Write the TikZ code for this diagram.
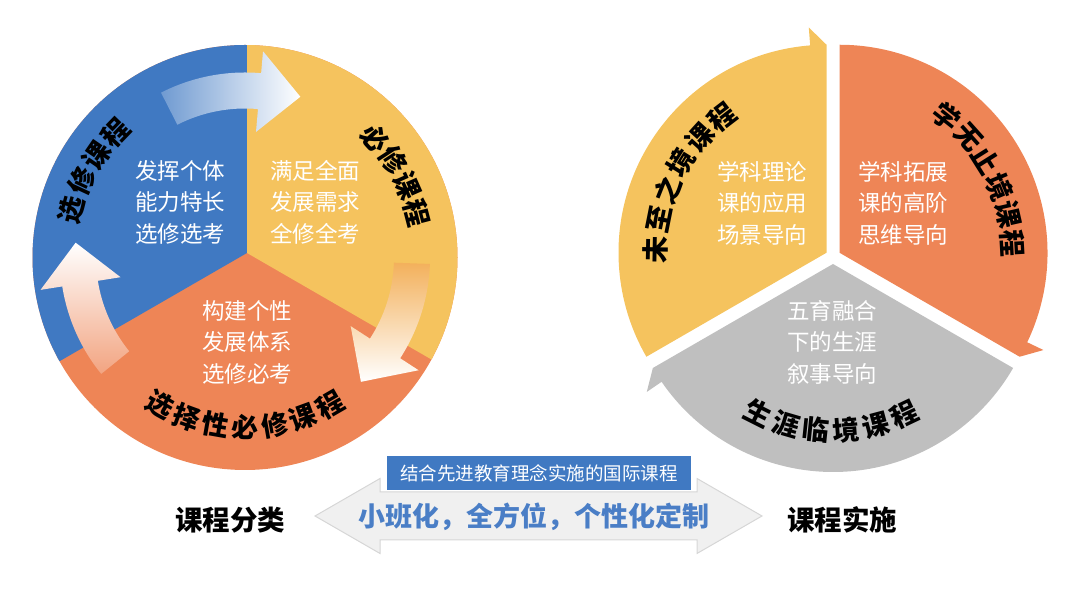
\documentclass[tikz,border=0pt]{standalone}
\usepackage{fontspec}
\setmainfont{Noto Sans CJK SC}
\usetikzlibrary{positioning}

\definecolor{kblue}{HTML}{4079C2}
\definecolor{kyellow}{HTML}{F5C35E}
\definecolor{korange}{HTML}{EE8556}
\definecolor{kgrey}{HTML}{BFBFBF}
\definecolor{ktext}{HTML}{4A7EC6}
\definecolor{karrow}{HTML}{F0F0F0}
\definecolor{kedge}{HTML}{D6D6D6}

\tikzset{
  body/.style={text=white, align=center, inner sep=0pt, font=\fontsize{22.5}{31.5}\selectfont},
  tag/.style={inner sep=0pt, font=\fontsize{27}{27}\selectfont\bfseries},
  title/.style={inner sep=0pt, font=\fontsize{27.5}{27.5}\selectfont\bfseries},
}

\newcommand{\arclabel}[5]{%
  \foreach \ch [count=\i from 0] in {#5}
    \node[tag, rotate={#2+\i*(#3)+#4}] (#1-\i) at ({#2+\i*(#3)}:#1) {\ch};}
\newcommand{\bendarrow}[3]{%
  (#1:185) arc[start angle=#1, end angle=#2, radius=185] -- (#2:207) -- (#3:170)
  -- (#2:126) -- (#2:149) arc[start angle=#2, end angle=#1, radius=149] -- cycle}

\begin{document}
\begin{tikzpicture}[x=1pt,y=1pt]
  \useasboundingbox (0,0) rectangle (1080,593);
  \begin{scope}[shift={(245,335.5)}]
    \fill[korange] (0,0) circle[radius=212.5];
    \begin{scope}
      \clip (0,0) circle[radius=212.5];
      \fill[kblue] (2,4.5) -- (2,230) -- (-260,230) -- (-257.8,-145.5) -- cycle;
      \fill[kyellow] (2,4.5) -- (2,230) -- (262,230) -- (261.8,-145.5) -- cycle;
    \end{scope}
    \shade[left color=kblue!75!white, right color=white] \bendarrow{117}{85}{71};
    \shade[top color=kyellow!70!korange, bottom color=white] \bendarrow{-2}{-33}{-47};
    \shade[bottom color=korange!75!white, top color=white] \bendarrow{219}{189}{175};
    \arclabel{180}{164.5}{-9.5}{-90}{选,修,课,程}
    \arclabel{177}{42.5}{-9.3}{-90}{必,修,课,程}
    \arclabel{170}{240}{10}{90}{选,择,性,必,修,课,程}
  \end{scope}
  \node[body] (free) at (180,391) {发挥个体\\能力特长\\选修选考};
  \node[body] (must) at (315,391) {满足全面\\发展需求\\全修全考};
  \node[body] (mixed) at (247,251) {构建个性\\发展体系\\选修必考};

  \begin{scope}[shift={(833,336.5)}]
    \begin{scope}[shift={(150:7.5)}]
      \fill[kyellow] (0,0) -- (90:208) -- (94.5:226) -- (94.5:208)
        arc[start angle=94.5, end angle=210, radius=208] -- cycle;
      \arclabel{171}{179}{-10.3}{-90}{未,至,之,境,课,程}
    \end{scope}
    \begin{scope}[shift={(30:7.5)}]
      \fill[korange] (0,0) -- (-30:208) -- (-25.5:226) -- (-25.5:208)
        arc[start angle=-25.5, end angle=90, radius=208] -- cycle;
      \arclabel{173}{51.6}{-9.7}{-90}{学,无,止,境,课,程}
    \end{scope}
    \begin{scope}[shift={(270:7.5)}]
      \fill[kgrey] (0,0) -- (210:208) -- (214.5:226) -- (214.5:208)
        arc[start angle=214.5, end angle=330, radius=208] -- cycle;
      \arclabel{167}{243.3}{10.4}{90}{生,涯,临,境,课,程}
    \end{scope}
  \end{scope}
  \node[body] (theory) at (762,390) {学科理论\\课的应用\\场景导向};
  \node[body] (expand) at (903,390) {学科拓展\\课的高阶\\思维导向};
  \node[body] (career) at (832,251) {五育融合\\下的生涯\\叙事导向};

  \draw[kedge, fill=karrow, line width=1pt] (315,77) -- (380,114.5) -- (380,101) -- (697,101)
    -- (697,114.5) -- (762,77) -- (697,39.5) -- (697,53) -- (380,53) -- (380,39.5) -- cycle;
  \node[fill=kblue, text=white, minimum width=304pt, minimum height=34pt, inner sep=0pt,
    font=\fontsize{18.5}{18.5}\selectfont] (intl) at (539,120) {结合先进教育理念实施的国际课程};
  \node[text=ktext, inner sep=0pt, font=\fontsize{27}{27}\selectfont\bfseries] (motto) at (534,76)
    {小班化，全方位，个性化定制};
  \node[title] (sort) at (230,73) {课程分类};
  \node[title] (apply) at (842,73) {课程实施};
\end{tikzpicture}
\end{document}
